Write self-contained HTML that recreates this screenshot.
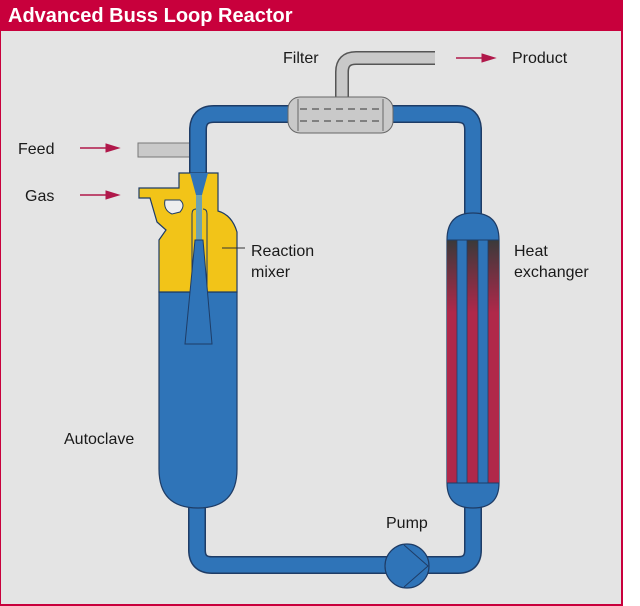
<!DOCTYPE html>
<html><head><meta charset="utf-8"><style>
html,body{margin:0;padding:0;background:#fff;}
svg{display:block;}
text{font-family:"Liberation Sans",Arial,sans-serif;fill:#1a1a1a;}
</style></head><body>
<svg width="640" height="606" viewBox="0 0 640 606" xmlns="http://www.w3.org/2000/svg">
<defs>
<linearGradient id="rg" x1="0" y1="0" x2="0" y2="1">
<stop offset="0" stop-color="#3a3a3a"/><stop offset="0.3" stop-color="#b0284a"/><stop offset="1" stop-color="#b0284a"/>
</linearGradient>
</defs>
<rect x="0" y="0" width="622" height="605" fill="#e4e4e4" stroke="#c8003c" stroke-width="2"/>
<rect x="0" y="0" width="622" height="31" fill="#c8003c"/>
<text x="8" y="22" font-size="20" font-weight="bold" style="fill:#fff">Advanced Buss Loop Reactor</text>

<!-- product pipe -->
<path d="M342 100 V72 Q342 58 356 58 H435" fill="none" stroke="#555" stroke-width="14"/>
<path d="M342 100 V72 Q342 58 356 58 H435" fill="none" stroke="#c9c9c9" stroke-width="11"/>
<!-- feed pipe -->
<rect x="138" y="143" width="54" height="14" fill="#c9c9c9" stroke="#777" stroke-width="1"/>

<!-- loop pipe -->
<path d="M198 180 V130 Q198 114 214 114 H457 Q473 114 473 130 V220 M473 500 V550 Q473 565 458 565 H212 Q197 565 197 550 V500" fill="none" stroke="#1e3c66" stroke-width="18"/>
<path d="M198 180 V130 Q198 114 214 114 H457 Q473 114 473 130 V220 M473 500 V550 Q473 565 458 565 H212 Q197 565 197 550 V500" fill="none" stroke="#2f74b8" stroke-width="15"/>

<!-- filter -->
<rect x="288" y="97" width="105" height="36" rx="12" fill="#c9c9c9" stroke="#666" stroke-width="1"/>
<line x1="298" y1="99" x2="298" y2="131" stroke="#666"/>
<line x1="383" y1="99" x2="383" y2="131" stroke="#666"/>
<line x1="300" y1="109" x2="382" y2="109" stroke="#555" stroke-dasharray="7,5" stroke-width="1.3"/>
<line x1="300" y1="121" x2="382" y2="121" stroke="#555" stroke-dasharray="7,5" stroke-width="1.3"/>

<!-- heat exchanger -->
<path d="M447 240 Q447 213 473 213 Q499 213 499 240 V483 Q499 508 473 508 Q447 508 447 483 Z" fill="#2f74b8" stroke="#1e3c66" stroke-width="1.2"/>
<rect x="447" y="240" width="10" height="243" fill="url(#rg)"/>
<rect x="467" y="240" width="11" height="243" fill="url(#rg)"/>
<rect x="488" y="240" width="11" height="243" fill="url(#rg)"/>
<line x1="447" y1="240" x2="499" y2="240" stroke="#1e3c66"/>
<line x1="447" y1="483" x2="499" y2="483" stroke="#1e3c66"/>
<g stroke="#1e3c66" stroke-width="0.8"><line x1="457" y1="240" x2="457" y2="483"/><line x1="467" y1="240" x2="467" y2="483"/><line x1="478" y1="240" x2="478" y2="483"/><line x1="488" y1="240" x2="488" y2="483"/></g>

<!-- pump -->
<circle cx="407" cy="566" r="22" fill="#2f74b8" stroke="#1e3c66" stroke-width="1.2"/>
<path d="M404 545 L428 566 L404 587" fill="none" stroke="#1e3c66" stroke-width="1"/>

<!-- autoclave -->
<path d="M159 292 H237 V469 Q237 508 198 508 Q159 508 159 469 Z" fill="#2f74b8" stroke="#1e3c66" stroke-width="1.2"/>
<path d="M159 292 V240 L166 230 L157 222 L150 198 H139 V188 H179 V173 H218 V211 Q232 215 237 232 V292 Z" fill="#f2c418" stroke="#1e3c66" stroke-width="1.2"/>
<path d="M165 200 H180 Q186 205 180 212 L172 214 Q163 210 165 200 Z" fill="#eeeeee" stroke="#1e3c66" stroke-width="1"/>
<path d="M192 292 V214 Q192 209 196 209 M203 209 Q207 209 207 214 V292" fill="none" stroke="#1e3c66" stroke-width="1"/>
<path d="M190 173 L196 195 H202 L208 173 Z" fill="#2f74b8"/>
<rect x="196" y="195" width="6" height="46" fill="#6ea2b0"/>
<path d="M195 240 H203 L212 344 H185 Z" fill="#2f74b8" stroke="#1e3c66" stroke-width="1"/>
<line x1="222" y1="248" x2="245" y2="248" stroke="#333" stroke-width="1"/>

<!-- arrows -->
<g fill="#b0184a" stroke="#b0184a">
<line x1="80" y1="148" x2="108" y2="148" stroke-width="1.5"/><path d="M106 144 L119 148 L106 152 Z"/>
<line x1="80" y1="195" x2="108" y2="195" stroke-width="1.5"/><path d="M106 191 L119 195 L106 199 Z"/>
<line x1="456" y1="58" x2="484" y2="58" stroke-width="1.5"/><path d="M482 54 L495 58 L482 62 Z"/>
</g>

<g font-size="16">
<text x="18" y="154">Feed</text>
<text x="25" y="201">Gas</text>
<text x="283" y="63">Filter</text>
<text x="512" y="63">Product</text>
<text x="251" y="256">Reaction</text>
<text x="251" y="277">mixer</text>
<text x="514" y="256">Heat</text>
<text x="514" y="277">exchanger</text>
<text x="64" y="444">Autoclave</text>
<text x="386" y="528">Pump</text>
</g>
</svg>
</body></html>
